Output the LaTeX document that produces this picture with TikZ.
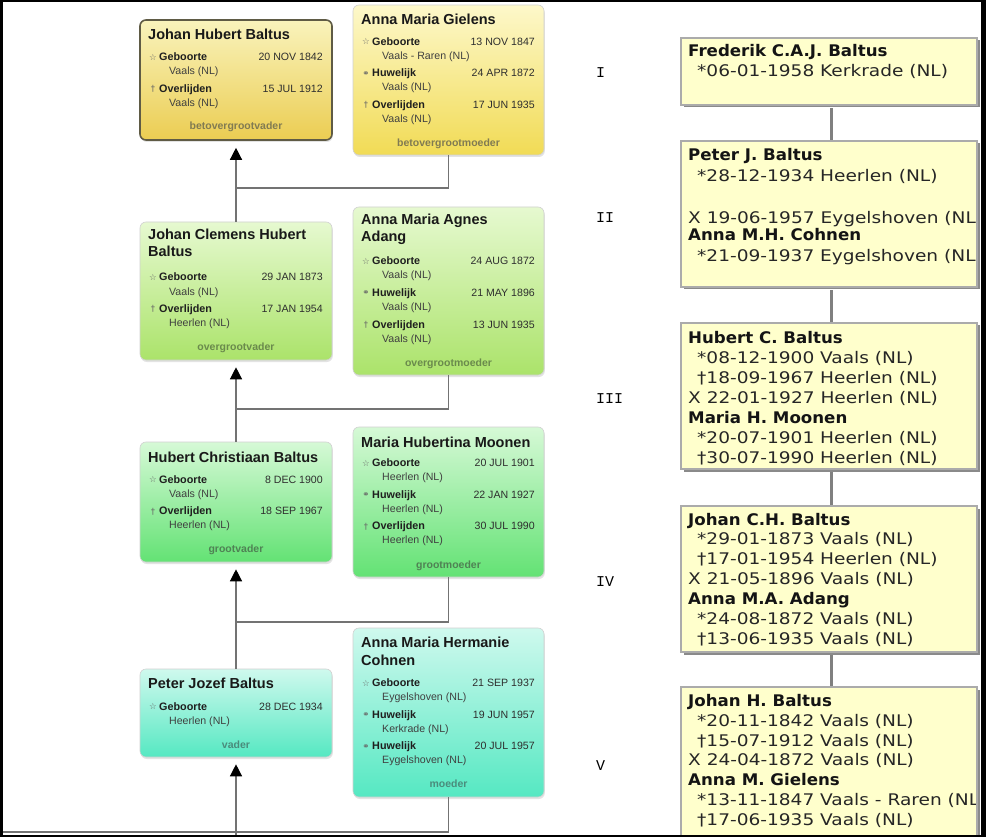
\documentclass[tikz,border=0pt]{standalone}
\usepackage{fontspec}
\setmainfont{Liberation Sans}
\newfontfamily\vfont[FakeStretch=1.16]{DejaVu Sans}
\newfontfamily\vbfont[FakeStretch=1.04]{DejaVu Sans Bold}
\newfontfamily\symfont{DejaVu Sans}
\newfontfamily\romfont{Liberation Mono}
\usetikzlibrary{arrows.meta,shadows}

\definecolor{yAt}{HTML}{F9F3BC}\definecolor{yAb}{HTML}{EBCD52}
\definecolor{yBt}{HTML}{FDF8CA}\definecolor{yBb}{HTML}{F1DB55}
\definecolor{gAt}{HTML}{E6F9D0}\definecolor{gAb}{HTML}{ABE36A}
\definecolor{gBt}{HTML}{D6F9D6}\definecolor{gBb}{HTML}{63E274}
\definecolor{cAt}{HTML}{CFF9EE}\definecolor{cAb}{HTML}{55E8C2}
\definecolor{roleY}{HTML}{817B52}
\definecolor{roleG}{HTML}{6A8A4C}
\definecolor{roleH}{HTML}{4F8254}
\definecolor{roleC}{HTML}{4A8C7C}
\definecolor{rfill}{HTML}{FFFFCC}
\definecolor{rline}{HTML}{ABABAB}
\definecolor{rshadow}{HTML}{8A8A8A}
\definecolor{selborder}{HTML}{5F5B45}

\tikzset{
  lbox/.style={rounded corners=6pt, minimum width=192pt, inner sep=0pt,
    draw=black!18, line width=0.6pt,
    drop shadow={opacity=0.22, shadow xshift=0.8pt, shadow yshift=-2pt}},
  nmst/.style={inner sep=0pt, anchor=base west, font=\fontsize{14.5}{17}\selectfont\bfseries, text=black!90},
  evl/.style={inner sep=0pt, anchor=base west, font=\fontsize{10.8}{12}\selectfont\bfseries, text=black!88},
  evd/.style={inner sep=0pt, anchor=base east, font=\fontsize{10.6}{12}\selectfont, text=black!82},
  evp/.style={inner sep=0pt, anchor=base west, font=\fontsize{10.6}{12}\selectfont, text=black!75},
  evi/.style={inner sep=0pt, anchor=base, font=\symfont\fontsize{8.5}{9}\selectfont, text=black!60},
  role/.style={inner sep=0pt, anchor=base, font=\fontsize{10.5}{12}\selectfont\bfseries},
  conn/.style={draw=black!55, line width=1.3pt},
  arr/.style={conn, -{Triangle[width=12pt,length=12pt,color=black]}, shorten >=7pt},
  rbox/.style={fill=rfill, draw=rline, line width=1.2pt, minimum width=296pt, inner sep=0pt,
    drop shadow={shadow xshift=2.5pt, shadow yshift=-2.5pt, fill=rshadow, opacity=1}},
  rconn/.style={draw=black!50, line width=3pt},
  rnm/.style={inner sep=0pt, anchor=base west, font=\vbfont\fontsize{16}{20}\selectfont, text=black!92},
  rtx/.style={inner sep=0pt, anchor=base west, font=\vfont\fontsize{16}{20}\selectfont, text=black!85},
  rom/.style={inner sep=0pt, anchor=base west, font=\romfont\fontsize{15}{17}\selectfont, text=black},
}

% event: id, box left, box right, baseline, icon, label, date, place
\newcommand\ev[8]{%
  \node[evi] (#1i) at ({#2+13},{#4-0.5}) {#5};
  \node[evl] (#1l) at ({#2+19},#4) {#6};
  \node[evd] (#1d) at ({#3-9},#4) {#7};
  \node[evp] (#1p) at ({#2+29},{#4+14}) {#8};}
\newcommand\rl[4]{\node[#1] (#2) at (#3) {#4};}
\newcommand\gbt{☆}
\newcommand\hwl{⚭}
\newcommand\ovl{†}

\begin{document}
\begin{tikzpicture}[x=1pt,y=-1pt]
\useasboundingbox (0,0) rectangle (986,837);
\fill[white] (0,0) rectangle (986,837);

% ---------- left boxes ----------
\node[lbox, top color=yAt, bottom color=yAb, draw=selborder, line width=1.6pt, minimum height=120pt] (b1) at (236,80) {};
\node[lbox, top color=yBt, bottom color=yBb, minimum width=191pt, minimum height=150pt] (b2) at (448.5,80) {};
\node[lbox, top color=gAt, bottom color=gAb, minimum height=138pt] (b3) at (236,291) {};
\node[lbox, top color=gAt, bottom color=gAb, minimum width=191pt, minimum height=168pt] (b4) at (448.5,291) {};
\node[lbox, top color=gBt, bottom color=gBb, minimum height=120pt] (b5) at (236,502) {};
\node[lbox, top color=gBt, bottom color=gBb, minimum width=191pt, minimum height=150pt] (b6) at (448.5,502) {};
\node[lbox, top color=cAt, bottom color=cAb, minimum height=88pt] (b7) at (236,713) {};
\node[lbox, top color=cAt, bottom color=cAb, minimum width=191pt, minimum height=169pt] (b8) at (448.5,712.5) {};

% ---------- left connectors ----------
\coordinate (j1) at (236,188);
\coordinate (j2) at (236,409);
\coordinate (j3) at (236,622);
\coordinate (j4) at (236,832);
\coordinate (jb) at (236,837);
\coordinate (je) at (3,832);
\draw[conn] (b2.south) |- (j1);
\draw[conn] (b4.south) |- (j2);
\draw[conn] (b6.south) |- (j3);
\draw[conn] (b8.south) |- (j4);
\draw[conn] (je) -- (j4);
\draw[arr] (b3.north) -- (b1.south);
\draw[arr] (b5.north) -- (b3.south);
\draw[arr] (b7.north) -- (b5.south);
\draw[arr] (jb) -- (b7.south);

% ---------- box 1 ----------
\node[nmst] (b1n) at (148,40) {Johan Hubert Baltus};
\ev{b1g}{140}{332}{61}{\gbt}{Geboorte}{20 NOV 1842}{Vaals (NL)}
\ev{b1o}{140}{332}{92.5}{\ovl}{Overlijden}{15 JUL 1912}{Vaals (NL)}
\node[role, text=roleY] (b1r) at (236,130) {betovergrootvader};

% ---------- box 2 ----------
\node[nmst] (b2n) at (361,25) {Anna Maria Gielens};
\ev{b2g}{353}{544}{45.5}{\gbt}{Geboorte}{13 NOV 1847}{Vaals - Raren (NL)}
\ev{b2h}{353}{544}{77}{\hwl}{Huwelijk}{24 APR 1872}{Vaals (NL)}
\ev{b2o}{353}{544}{108.5}{\ovl}{Overlijden}{17 JUN 1935}{Vaals (NL)}
\node[role, text=roleY] (b2r) at (448.5,146.5) {betovergrootmoeder};

% ---------- box 3 ----------
\node[nmst] (b3n) at (148,240) {Johan Clemens Hubert};
\node[nmst] (b3m) at (148,257) {Baltus};
\ev{b3g}{140}{332}{281}{\gbt}{Geboorte}{29 JAN 1873}{Vaals (NL)}
\ev{b3o}{140}{332}{312.5}{\ovl}{Overlijden}{17 JAN 1954}{Heerlen (NL)}
\node[role, text=roleG] (b3r) at (236,350) {overgrootvader};

% ---------- box 4 ----------
\node[nmst] (b4n) at (361,225) {Anna Maria Agnes};
\node[nmst] (b4m) at (361,242) {Adang};
\ev{b4g}{353}{544}{265}{\gbt}{Geboorte}{24 AUG 1872}{Vaals (NL)}
\ev{b4h}{353}{544}{296.5}{\hwl}{Huwelijk}{21 MAY 1896}{Vaals (NL)}
\ev{b4o}{353}{544}{328}{\ovl}{Overlijden}{13 JUN 1935}{Vaals (NL)}
\node[role, text=roleG] (b4r) at (448.5,366.5) {overgrootmoeder};

% ---------- box 5 ----------
\node[nmst] (b5n) at (148,462) {Hubert Christiaan Baltus};
\ev{b5g}{140}{332}{483.3}{\gbt}{Geboorte}{8 DEC 1900}{Vaals (NL)}
\ev{b5o}{140}{332}{514.5}{\ovl}{Overlijden}{18 SEP 1967}{Heerlen (NL)}
\node[role, text=roleH] (b5r) at (236,552.5) {grootvader};

% ---------- box 6 ----------
\node[nmst] (b6n) at (361,447) {Maria Hubertina Moonen};
\ev{b6g}{353}{544}{466.7}{\gbt}{Geboorte}{20 JUL 1901}{Heerlen (NL)}
\ev{b6h}{353}{544}{498}{\hwl}{Huwelijk}{22 JAN 1927}{Heerlen (NL)}
\ev{b6o}{353}{544}{529.5}{\ovl}{Overlijden}{30 JUL 1990}{Heerlen (NL)}
\node[role, text=roleH] (b6r) at (448.5,568.3) {grootmoeder};

% ---------- box 7 ----------
\node[nmst] (b7n) at (148,688) {Peter Jozef Baltus};
\ev{b7g}{140}{332}{710}{\gbt}{Geboorte}{28 DEC 1934}{Heerlen (NL)}
\node[role, text=roleC] (b7r) at (236,748.3) {vader};

% ---------- box 8 ----------
\node[nmst] (b8n) at (361,647) {Anna Maria Hermanie};
\node[nmst] (b8m) at (361,665) {Cohnen};
\ev{b8g}{353}{544}{686.7}{\gbt}{Geboorte}{21 SEP 1937}{Eygelshoven (NL)}
\ev{b8h}{353}{544}{718}{\hwl}{Huwelijk}{19 JUN 1957}{Kerkrade (NL)}
\ev{b8k}{353}{544}{749.5}{\hwl}{Huwelijk}{20 JUL 1957}{Eygelshoven (NL)}
\node[role, text=roleC] (b8r) at (448.5,787.7) {moeder};

% ---------- right column ----------
\node[rbox, minimum height=67pt] (ra) at (829,71.5) {};
\node[rbox, minimum height=146pt] (rb) at (829,214) {};
\node[rbox, minimum height=146pt] (rc) at (829,396) {};
\node[rbox, minimum height=146pt] (rd) at (829,579) {};
\node[rbox, minimum height=152pt] (re) at (829,763) {};
\draw[rconn] ([xshift=2pt,yshift=-2.5pt]ra.south) -- ([xshift=2pt]rb.north);
\draw[rconn] ([xshift=2pt,yshift=-2.5pt]rb.south) -- ([xshift=2pt]rc.north);
\draw[rconn] ([xshift=2pt,yshift=-2.5pt]rc.south) -- ([xshift=2pt]rd.north);
\draw[rconn] ([xshift=2pt,yshift=-2.5pt]rd.south) -- ([xshift=2pt]re.north);

\rl{rom}{g1}{596,78}{I}
\rl{rom}{g2}{596,223}{II}
\rl{rom}{g3}{596,403}{III}
\rl{rom}{g4}{596,586}{IV}
\rl{rom}{g5}{596,770}{V}

\begin{scope}
\clip (670,0) rectangle (975.5,837);
\rl{rnm}{ra1}{688,57}{Frederik C.A.J. Baltus}
\rl{rtx}{ra2}{697,77}{*06-01-1958 Kerkrade (NL)}

\rl{rnm}{rb1}{688,161}{Peter J. Baltus}
\rl{rtx}{rb2}{697,181.5}{*28-12-1934 Heerlen (NL)}
\rl{rtx}{rb3}{688,224}{X 19-06-1957 Eygelshoven (NL)}
\rl{rnm}{rb4}{688,241}{Anna M.H. Cohnen}
\rl{rtx}{rb5}{697,262}{*21-09-1937 Eygelshoven (NL)}

\rl{rnm}{rc1}{688,343.5}{Hubert C. Baltus}
\rl{rtx}{rc2}{697,363.4}{*08-12-1900 Vaals (NL)}
\rl{rtx}{rc3}{697,383.3}{†18-09-1967 Heerlen (NL)}
\rl{rtx}{rc4}{688,403.2}{X 22-01-1927 Heerlen (NL)}
\rl{rnm}{rc5}{688,423.1}{Maria H. Moonen}
\rl{rtx}{rc6}{697,443}{*20-07-1901 Heerlen (NL)}
\rl{rtx}{rc7}{697,463}{†30-07-1990 Heerlen (NL)}

\rl{rnm}{rd1}{688,525}{Johan C.H. Baltus}
\rl{rtx}{rd2}{697,544.9}{*29-01-1873 Vaals (NL)}
\rl{rtx}{rd3}{697,564.8}{†17-01-1954 Heerlen (NL)}
\rl{rtx}{rd4}{688,584.7}{X 21-05-1896 Vaals (NL)}
\rl{rnm}{rd5}{688,604.6}{Anna M.A. Adang}
\rl{rtx}{rd6}{697,624.5}{*24-08-1872 Vaals (NL)}
\rl{rtx}{rd7}{697,644.4}{†13-06-1935 Vaals (NL)}

\rl{rnm}{re1}{688,706.5}{Johan H. Baltus}
\rl{rtx}{re2}{697,726.3}{*20-11-1842 Vaals (NL)}
\rl{rtx}{re3}{697,746.1}{†15-07-1912 Vaals (NL)}
\rl{rtx}{re4}{688,765.9}{X 24-04-1872 Vaals (NL)}
\rl{rnm}{re5}{688,785.7}{Anna M. Gielens}
\rl{rtx}{re6}{697,805.5}{*13-11-1847 Vaals - Raren (NL)}
\rl{rtx}{re7}{697,825.5}{†17-06-1935 Vaals (NL)}
\end{scope}

% ---------- frame ----------
\fill[black] (0,0) rectangle (986,2.5);
\fill[black] (0,0) rectangle (3,837);
\fill[black] (981,0) rectangle (986,837);
\fill[black] (0,834.5) rectangle (986,837);
\end{tikzpicture}
\end{document}
